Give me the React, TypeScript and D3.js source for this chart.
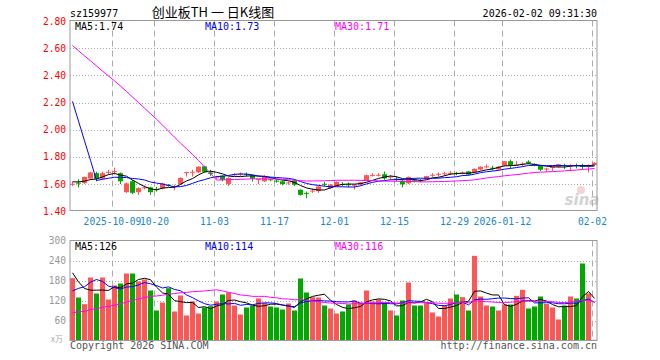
import React from "react";
import * as d3 from "d3";

// ---- data ----
const opens = [
  1.600, 1.610, 1.607, 1.640, 1.680, 1.640, 1.688, 1.690, 1.680, 1.540,
  1.620, 1.540, 1.573, 1.575, 1.565, 1.567, 1.595, 1.583, 1.600, 1.686,
  1.685, 1.686, 1.730, 1.685, 1.645, 1.662, 1.600, 1.668, 1.670, 1.675,
  1.665, 1.634, 1.620, 1.635, 1.625, 1.620, 1.608, 1.625, 1.558, 1.535,
  1.548, 1.548, 1.602, 1.570, 1.585, 1.600, 1.598, 1.592, 1.597, 1.625,
  1.663, 1.665, 1.672, 1.652, 1.640, 1.625, 1.605, 1.628, 1.627, 1.637,
  1.665, 1.672, 1.676, 1.680, 1.682, 1.680, 1.693, 1.687, 1.706, 1.725,
  1.720, 1.708, 1.736, 1.768, 1.740, 1.745, 1.765, 1.748, 1.735, 1.710,
  1.720, 1.727, 1.740, 1.735, 1.740, 1.733, 1.733, 1.740,
];
const highs = [
  1.615, 1.635, 1.655, 1.690, 1.690, 1.690, 1.705, 1.720, 1.685, 1.610,
  1.630, 1.575, 1.590, 1.580, 1.580, 1.610, 1.600, 1.595, 1.650, 1.690,
  1.705, 1.730, 1.735, 1.705, 1.660, 1.665, 1.650, 1.680, 1.685, 1.685,
  1.668, 1.638, 1.665, 1.640, 1.635, 1.625, 1.620, 1.635, 1.560, 1.545,
  1.568, 1.585, 1.617, 1.600, 1.620, 1.614, 1.612, 1.600, 1.615, 1.670,
  1.680, 1.680, 1.692, 1.665, 1.655, 1.635, 1.655, 1.640, 1.637, 1.660,
  1.680, 1.685, 1.690, 1.695, 1.690, 1.692, 1.695, 1.715, 1.730, 1.745,
  1.735, 1.732, 1.770, 1.780, 1.770, 1.760, 1.775, 1.752, 1.738, 1.720,
  1.730, 1.748, 1.750, 1.745, 1.750, 1.750, 1.745, 1.760,
];
const lows = [
  1.585, 1.575, 1.600, 1.635, 1.620, 1.635, 1.670, 1.670, 1.600, 1.535,
  1.525, 1.520, 1.560, 1.520, 1.545, 1.560, 1.580, 1.555, 1.595, 1.655,
  1.655, 1.680, 1.685, 1.660, 1.635, 1.620, 1.585, 1.660, 1.660, 1.655,
  1.618, 1.600, 1.615, 1.620, 1.610, 1.590, 1.595, 1.585, 1.515, 1.495,
  1.535, 1.535, 1.582, 1.565, 1.580, 1.585, 1.578, 1.560, 1.590, 1.620,
  1.655, 1.655, 1.630, 1.630, 1.620, 1.575, 1.600, 1.612, 1.612, 1.632,
  1.652, 1.655, 1.660, 1.667, 1.665, 1.670, 1.665, 1.683, 1.700, 1.715,
  1.700, 1.700, 1.730, 1.714, 1.735, 1.730, 1.745, 1.730, 1.695, 1.690,
  1.695, 1.720, 1.710, 1.695, 1.715, 1.710, 1.685, 1.735,
];
const closes = [
  1.602, 1.605, 1.652, 1.685, 1.640, 1.680, 1.690, 1.695, 1.620, 1.605,
  1.535, 1.570, 1.576, 1.540, 1.560, 1.605, 1.590, 1.586, 1.645, 1.688,
  1.690, 1.728, 1.690, 1.675, 1.650, 1.632, 1.645, 1.672, 1.675, 1.670,
  1.640, 1.636, 1.660, 1.630, 1.620, 1.600, 1.612, 1.595, 1.520, 1.530,
  1.552, 1.582, 1.598, 1.595, 1.615, 1.598, 1.594, 1.595, 1.612, 1.665,
  1.667, 1.668, 1.642, 1.655, 1.636, 1.598, 1.652, 1.624, 1.623, 1.658,
  1.668, 1.675, 1.679, 1.683, 1.678, 1.684, 1.670, 1.712, 1.727, 1.730,
  1.715, 1.728, 1.768, 1.736, 1.743, 1.750, 1.753, 1.738, 1.705, 1.714,
  1.725, 1.745, 1.736, 1.738, 1.735, 1.730, 1.737, 1.757,
];
const volumes = [
  187, 129, 109, 189, 141, 189, 123, 165, 171, 201,
  201, 177, 183, 150, 90, 114, 157, 87, 135, 75,
  117, 81, 99, 103, 117, 138, 144, 105, 78, 99,
  105, 126, 113, 102, 99, 93, 111, 90, 186, 144,
  130, 129, 105, 96, 81, 87, 108, 120, 114, 150,
  117, 123, 114, 90, 75, 120, 174, 105, 105, 114,
  84, 72, 105, 126, 138, 130, 90, 254, 132, 105,
  102, 90, 108, 108, 134, 152, 96, 102, 132, 110,
  99, 63, 105, 132, 126, 231, 141, 2,
];
// closes and volumes of the 29 sessions before the visible window (feed the moving averages)
const priorCloses = [
  2.76, 2.78, 2.77, 2.79, 2.80, 2.78, 2.76, 2.77, 2.79, 2.78,
  2.80, 2.79, 2.77, 2.78, 2.90, 2.92, 2.94, 2.93, 2.95, 2.94,
  3.06, 3.10, 3.12, 3.12, 1.60, 1.61, 1.62, 1.63, 1.62,
];
const priorVolumes = [
  45, 52, 48, 55, 50, 47, 53, 49, 51, 46,
  54, 50, 48, 52, 49, 51, 47, 53, 50, 50,
  55, 60, 52, 61, 247, 264, 209, 214, 141,
];
const tickLabels = ["2025-10-09", "10-20", "11-03", "11-17", "12-01", "12-15", "12-29", "2026-01-12", "02-02"];
const tickIndex = [7, 14, 24, 34, 44, 54, 64, 72, 87];
const priceTicks = [2.8, 2.6, 2.4, 2.2, 2.0, 1.8, 1.6, 1.4];
const volumeTicks = [300, 240, 180, 120, 60];
const maPeriods = [5, 10, 30];
const maColors = ["#000000", "#0000ff", "#ff00ff"];

const RED = "#ff5555";
const GREEN = "#00a800";
const MONO = "'DejaVu Sans Mono', 'Liberation Mono', monospace";

function movingAverage(prior: number[], values: number[], n: number): number[] {
  const all = prior.concat(values);
  const off = prior.length;
  return values.map((_, i) => {
    const end = off + i;
    const slice = all.slice(end - n + 1, end + 1);
    return d3.sum(slice) / slice.length;
  });
}

export default function App() {
  const N = closes.length;
  const L = 70, R = 597;
  const pTop = 20.5, pBot = 210.5;
  const vTop = 240.5, vBot = 340.5;

  const x = d3.scaleLinear().domain([0, 88]).range([70, 598]);
  const yP = d3.scaleLinear().domain([1.4, 2.8]).range([211.2, 21]);
  const yV = d3.scaleLinear().domain([0, 300]).range([340.5, 240.5]);

  const priceMAs = maPeriods.map((n) => movingAverage(priorCloses, closes, n));
  const volMAs = maPeriods.map((n) => movingAverage(priorVolumes, volumes, n));

  const lineP = d3.line<number>().x((_, i) => x(i) + 2.5).y((d) => yP(d));
  const lineV = d3.line<number>().x((_, i) => x(i) + 2.5).y((d) => yV(d));

  const idx = d3.range(N);
  const labelX = [75, 205, 335];

  return (
    <svg width={660} height={360} style={{ position: "fixed", left: 0, top: 0, background: "#fff" }}>
      <defs>
        <clipPath id="clipP"><rect x={L} y={pTop} width={R - L} height={pBot - pTop} /></clipPath>
        <clipPath id="clipV"><rect x={L} y={vTop} width={R - L} height={vBot - vTop} /></clipPath>
      </defs>
      <rect x={0} y={0} width={660} height={360} fill="#fff" />

      {/* header */}
      <text x={70} y={16.5} fontFamily={MONO} fontSize={10} fill="#000">sz159977</text>
      <text x={213} y={17} textAnchor="middle" fontFamily="'Noto Sans CJK SC', sans-serif" fontSize={13} fill="#000">创业板TH 一 日K线图</text>
      <text x={597} y={16.5} textAnchor="end" fontFamily={MONO} fontSize={10} fill="#000">2026-02-02 09:31:30</text>

      {/* price grid */}
      {priceTicks.slice(1, -1).map((t) => (
        <line key={"pg" + t} x1={L} x2={R} y1={Math.round(yP(t)) + 0.5} y2={Math.round(yP(t)) + 0.5} stroke="#aaa" strokeDasharray="1,2" />
      ))}
      {volumeTicks.slice(1).map((t) => (
        <line key={"vg" + t} x1={L} x2={R} y1={Math.round(yV(t)) + 0.5} y2={Math.round(yV(t)) + 0.5} stroke="#aaa" strokeDasharray="1,2" />
      ))}
      {tickIndex.map((ti) => (
        <g key={"vx" + ti}>
          <line x1={Math.round(x(ti)) + 0.5} x2={Math.round(x(ti)) + 0.5} y1={pTop} y2={pBot} stroke="#aaa" strokeDasharray="6,4" />
          <line x1={Math.round(x(ti)) + 0.5} x2={Math.round(x(ti)) + 0.5} y1={vTop} y2={vBot} stroke="#aaa" strokeDasharray="6,4" />
        </g>
      ))}

      {/* watermark */}
      <g opacity={0.55}>
        <circle cx={581} cy={190} r={4} fill="#f2b0b0" />
        <text x={582} y={205} textAnchor="middle" fontFamily="'DejaVu Sans', sans-serif" fontStyle="italic" fontWeight="bold" fontSize={15} fill="#b0b0b0">sina</text>
      </g>

      {/* candles */}
      <g clipPath="url(#clipP)">
        {idx.map((i) => {
          const o = opens[i], c = closes[i];
          const up = c >= o;
          const col = up ? RED : GREEN;
          const y1 = yP(Math.max(o, c));
          const y2 = yP(Math.min(o, c));
          const h = Math.max(1, y2 - y1);
          return (
            <g key={"c" + i}>
              <line x1={x(i) + 2.5} x2={x(i) + 2.5} y1={yP(highs[i])} y2={yP(lows[i])} stroke={col} />
              <rect x={x(i)} y={y1} width={5} height={h} fill={col} />
            </g>
          );
        })}
        {priceMAs.map((m, k) => (
          <path key={"pm" + k} d={lineP(m) || ""} fill="none" stroke={maColors[k]} strokeWidth={1} />
        ))}
      </g>

      {/* volume bars */}
      <g clipPath="url(#clipV)">
        {idx.map((i) => {
          const up = closes[i] >= opens[i];
          const yt = yV(volumes[i]);
          return <rect key={"v" + i} x={x(i)} y={yt} width={5} height={Math.max(1, vBot - yt)} fill={up ? RED : GREEN} />;
        })}
        {volMAs.map((m, k) => (
          <path key={"vm" + k} d={lineV(m) || ""} fill="none" stroke={maColors[k]} strokeWidth={1} />
        ))}
      </g>

      {/* borders */}
      <rect x={L} y={pTop} width={R - L} height={pBot - pTop} fill="none" stroke="#999" />
      <rect x={L} y={vTop} width={R - L} height={vBot - vTop} fill="none" stroke="#999" />

      {/* MA labels */}
      {maPeriods.map((n, k) => (
        <text key={"pl" + n} x={labelX[k]} y={29.5} fontFamily={MONO} fontSize={10} fill={maColors[k]}>
          {`MA${n}:${priceMAs[k][N - 1].toFixed(2)}`}
        </text>
      ))}
      {maPeriods.map((n, k) => (
        <text key={"vl" + n} x={labelX[k]} y={249.5} fontFamily={MONO} fontSize={10} fill={maColors[k]}>
          {`MA${n}:${Math.round(volMAs[k][N - 1])}`}
        </text>
      ))}

      {/* axes labels */}
      {priceTicks.map((t) => (
        <text key={"py" + t} x={66} y={yP(t) + 3.5} textAnchor="end" fontFamily={MONO} fontSize={9.6} fill="#ff0000">{t.toFixed(2)}</text>
      ))}
      {volumeTicks.map((t) => (
        <text key={"vy" + t} x={66} y={yV(t) + 3.5} textAnchor="end" fontFamily={MONO} fontSize={9.6} fill="#999">{t}</text>
      ))}
      <text x={63} y={342} textAnchor="end" fontFamily="'Noto Sans CJK SC', sans-serif" fontSize={8} fill="#aaa">x万</text>
      {tickIndex.map((ti, k) => (
        <text key={"xl" + ti} x={Math.round(x(ti)) + 0.5} y={224.5} textAnchor="middle" fontFamily={MONO} fontSize={9.6} fill="#1a86d0">{tickLabels[k]}</text>
      ))}

      {/* footer */}
      <text x={70} y={349} fontFamily={MONO} fontSize={10} fill="#555">Copyright 2026 SINA.COM</text>
      <text x={597} y={349} textAnchor="end" fontFamily={MONO} fontSize={10} fill="#555">http://finance.sina.com.cn</text>
    </svg>
  );
}
